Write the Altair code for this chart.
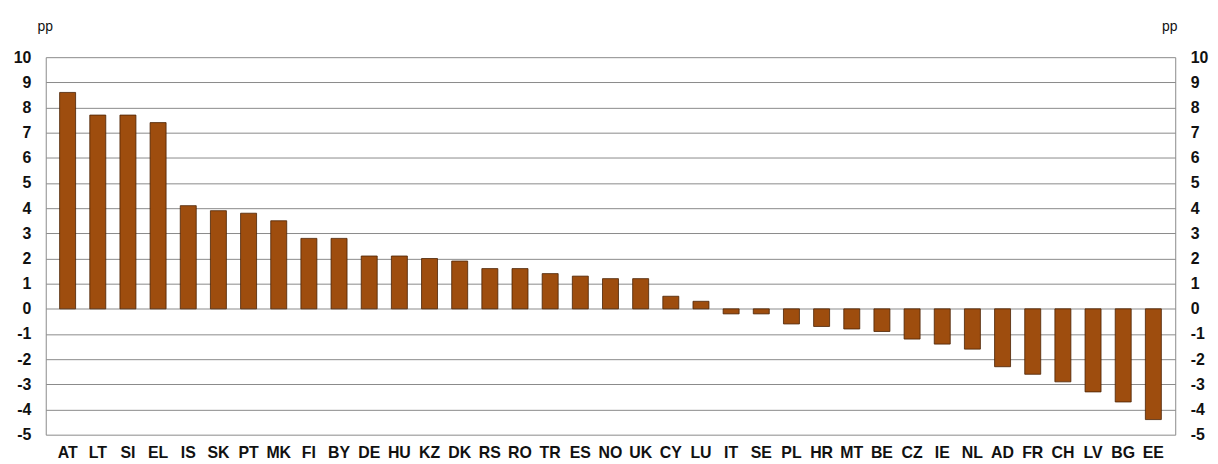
import altair as alt
import pandas as pd

countries = ["AT", "LT", "SI", "EL", "IS", "SK", "PT", "MK", "FI", "BY", "DE", "HU", "KZ", "DK",
             "RS", "RO", "TR", "ES", "NO", "UK", "CY", "LU", "IT", "SE", "PL", "HR", "MT", "BE",
             "CZ", "IE", "NL", "AD", "FR", "CH", "LV", "BG", "EE"]
values = [8.6, 7.7, 7.7, 7.4, 4.1, 3.9, 3.8, 3.5, 2.8, 2.8, 2.1, 2.1, 2.0, 1.9,
          1.6, 1.6, 1.4, 1.3, 1.2, 1.2, 0.5, 0.3, -0.2, -0.2, -0.6, -0.7, -0.8, -0.9,
          -1.2, -1.4, -1.6, -2.3, -2.6, -2.9, -3.3, -3.7, -4.4]
y_ticks = list(range(-5, 11))

df = pd.DataFrame({"country": countries, "value": values})

FONT = "Liberation Sans"

x_enc = alt.X("country:N", sort=countries, title=None,
              scale=alt.Scale(paddingInner=0.47, paddingOuter=0.46),
              axis=alt.Axis(labelAngle=0, labelFont=FONT, labelFontSize=16,
                            labelFontWeight="bold", labelColor="#111", ticks=False,
                            domain=False, labelPadding=10))

left = alt.Chart(df).mark_bar(color="#9E4D0E", stroke="#4a2204", strokeWidth=0.8).encode(
    x=x_enc,
    y=alt.Y("value:Q", scale=alt.Scale(domain=[-5, 10], nice=False),
            axis=alt.Axis(values=y_ticks, orient="left", grid=True, gridColor="#8a8a8a",
                          gridWidth=1, ticks=False, domainColor="#8a8a8a",
                          labelExpr="'' + datum.value",
                          labelFont=FONT, labelFontSize=16, labelFontWeight="bold",
                          labelColor="#111", labelPadding=15,
                          title="pp", titleAngle=0, titleX=-1, titleY=-31,
                          titleAlign="center", titleBaseline="middle",
                          titleFont=FONT, titleFontSize=14, titleFontWeight="normal",
                          titleColor="#111"))
)

right = alt.Chart(df).mark_bar(opacity=0).encode(
    x=x_enc,
    y=alt.Y("value:Q", scale=alt.Scale(domain=[-5, 10], nice=False),
            axis=alt.Axis(values=y_ticks, orient="right", grid=False, ticks=False,
                          domainColor="#8a8a8a",
                          labelExpr="'' + datum.value",
                          labelFont=FONT, labelFontSize=16, labelFontWeight="bold",
                          labelColor="#111", labelPadding=15,
                          title="pp", titleAngle=0, titleX=-6, titleY=-31,
                          titleAlign="center", titleBaseline="middle",
                          titleFont=FONT, titleFontSize=14, titleFontWeight="normal",
                          titleColor="#111"))
)

chart = alt.layer(right, left).resolve_scale(y="independent").properties(
    width=1137, height=380,
    autosize=alt.AutoSizeParams(type="none"),
    padding={"left": 38, "top": 48, "right": 35, "bottom": 28},
).configure_view(stroke=None)

chart.save("out.html", embed_options={"renderer": "svg", "actions": False})
